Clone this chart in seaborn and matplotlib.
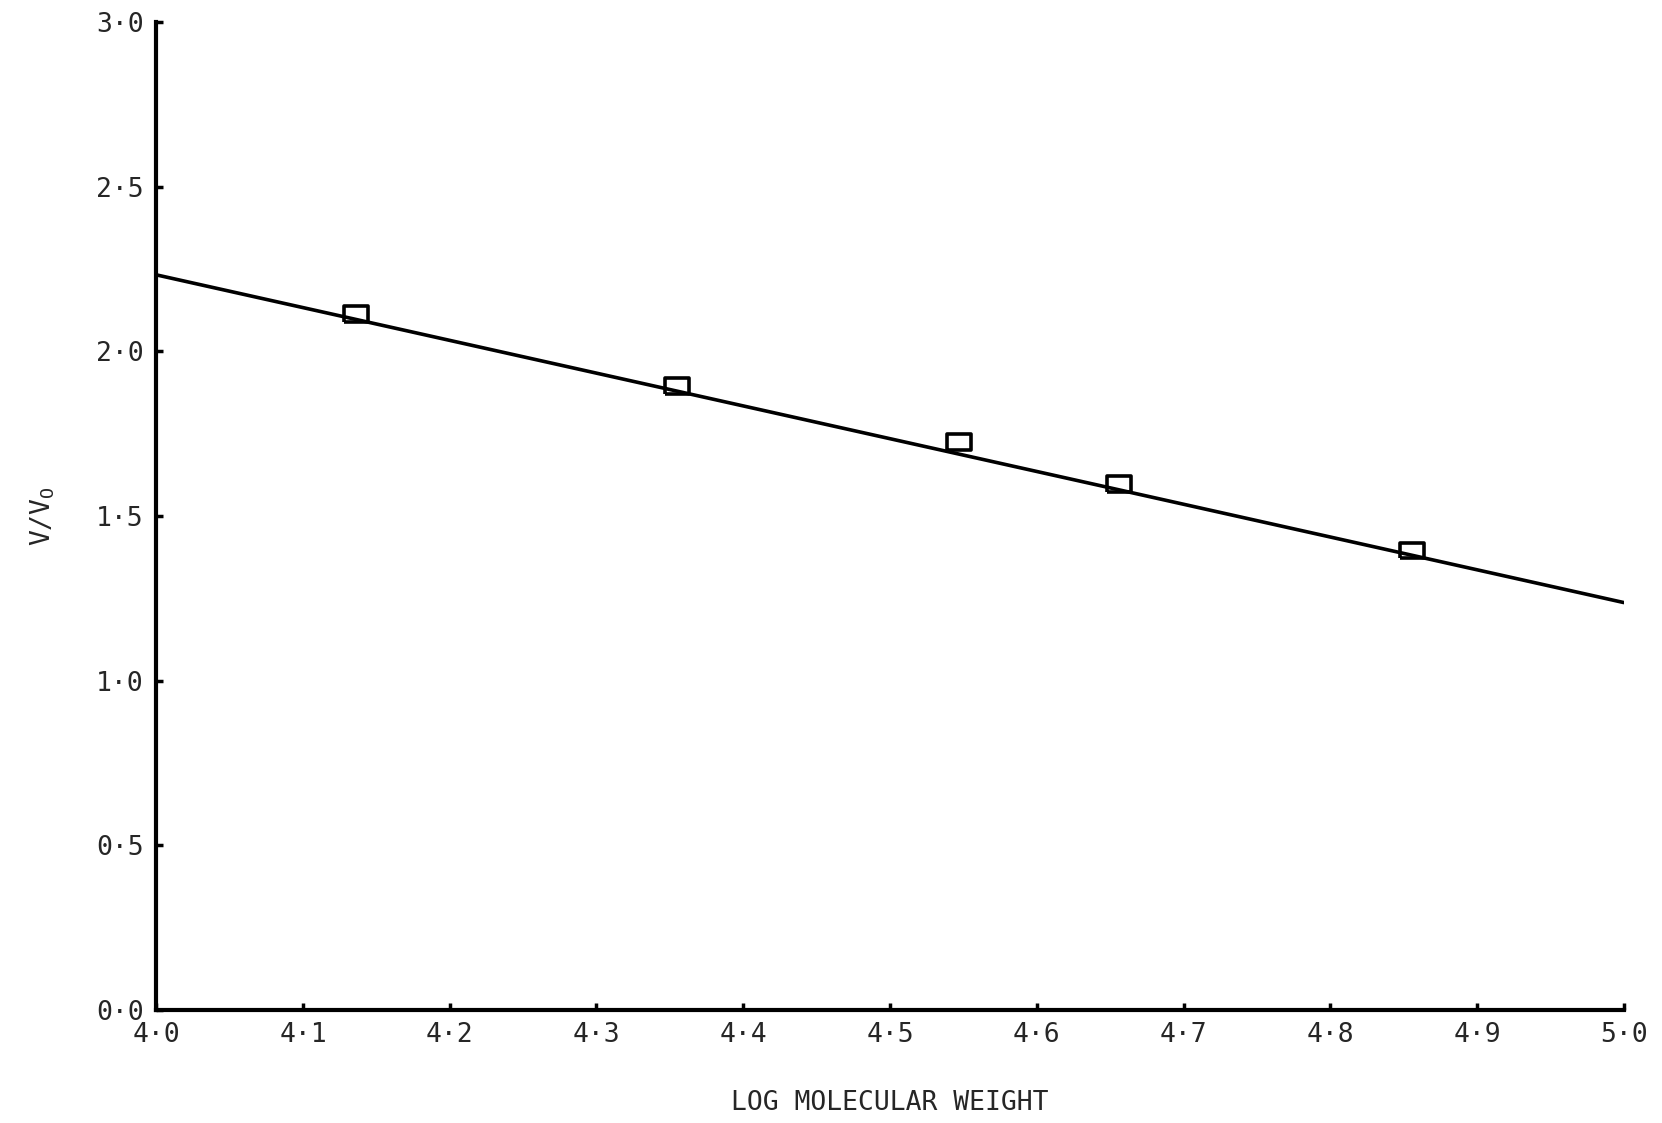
import numpy as np
import pandas as pd
import matplotlib
matplotlib.use("Agg")
import matplotlib.pyplot as plt
import seaborn as sns

# data
log_mw = [4.136, 4.355, 4.547, 4.656, 4.856]
v_ratio = [2.114, 1.895, 1.724, 1.598, 1.395]
fit_x = [4.0, 5.0]
fit_y = [2.233, 1.237]
x_ticks = [4.0, 4.1, 4.2, 4.3, 4.4, 4.5, 4.6, 4.7, 4.8, 4.9, 5.0]
y_ticks = [0.0, 0.5, 1.0, 1.5, 2.0, 2.5, 3.0]

sns.set_style("ticks")
plt.rcParams['font.family'] = ['DejaVu Sans Mono', 'DejaVu Sans']

fig = plt.figure(figsize=(16.62, 11.23), dpi=100)
ax = fig.add_axes([0.094, 0.101, 0.883, 0.879])

pts = pd.DataFrame({'x': log_mw, 'y': v_ratio})
fit = pd.DataFrame({'x': fit_x, 'y': fit_y})

sns.lineplot(data=fit, x='x', y='y', ax=ax, color='black', lw=2.6)
rect = [(-1, -0.65), (1, -0.65), (1, 0.65), (-1, 0.65), (-1, -0.65)]
sns.scatterplot(data=pts, x='x', y='y', ax=ax, marker=rect, s=300,
                facecolor='none', edgecolor='black', linewidth=2.6, zorder=5)

ax.set_xlim(4.0, 5.0)
ax.set_ylim(0.0, 3.0)
ax.set_xticks(x_ticks)
ax.set_yticks(y_ticks)
ax.set_xticklabels([f"{v:.1f}".replace('.', '·') for v in x_ticks])
ax.set_yticklabels([f"{v:.1f}".replace('.', '·') for v in y_ticks])
ax.tick_params(direction='in', length=5, width=2.5, labelsize=19, pad=9, color='black')

for side in ['top', 'right']:
    ax.spines[side].set_visible(False)
for side in ['left', 'bottom']:
    ax.spines[side].set_linewidth(3)
    ax.spines[side].set_color('black')

ax.set_xlabel('LOG MOLECULAR WEIGHT', fontsize=19, labelpad=30)
ax.set_ylabel('V/V$_\\mathregular{O}$', fontsize=19, labelpad=28)

fig.savefig('out.png', dpi=100)
